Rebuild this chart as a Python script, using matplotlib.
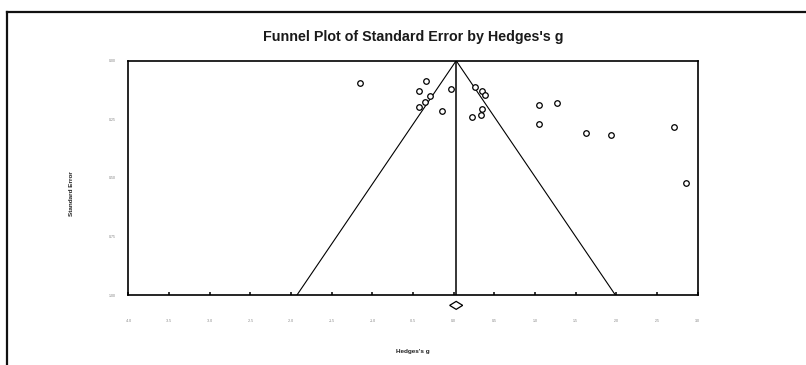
import matplotlib
matplotlib.use("Agg")
import matplotlib.pyplot as plt
from matplotlib.lines import Line2D
from matplotlib.patches import Polygon

# study effects (Hedges's g) and their standard errors
hedges_g = [-1.158, -0.336, -0.427, -0.296, -0.357, -0.427, -0.139, -0.028,
            0.267, 0.353, 0.390, 0.353, 0.341, 0.230,
            1.050, 1.266, 1.050, 1.627, 1.930, 2.713, 2.853]
std_err = [0.097, 0.087, 0.129, 0.152, 0.176, 0.198, 0.216, 0.119,
           0.112, 0.129, 0.147, 0.205, 0.233, 0.241,
           0.190, 0.180, 0.269, 0.308, 0.315, 0.281, 0.523]

# summary effect and its interval (diamond under the axis)
mean_g = 0.03
ci_low = -0.05
ci_high = 0.11
se_max = 1.0

x_ticks = [-4.0, -3.5, -3.0, -2.5, -2.0, -1.5, -1.0, -0.5, 0.0,
           0.5, 1.0, 1.5, 2.0, 2.5, 3.0]
y_ticks = [0.0, 0.25, 0.5, 0.75, 1.0]

plt.rcParams['font.family'] = ['Liberation Sans', 'DejaVu Sans']

fig = plt.figure(figsize=(8.06, 3.65), dpi=100)
ax = fig.add_axes([0.1594, 0.191, 0.7062, 0.6427])

# funnel and mean line
ax.plot([mean_g - 1.96 * se_max, mean_g, mean_g + 1.96 * se_max],
        [se_max, 0.0, se_max], color='black', lw=0.8)
ax.plot([mean_g, mean_g], [0.0, se_max], color='black', lw=1.1)

ax.plot(hedges_g, std_err, linestyle='none', marker='o', markersize=4.0,
        markerfacecolor='white', markeredgecolor='black', markeredgewidth=0.9)

# summary diamond, drawn just below the plot area
yd = 1.043
hd = 0.017
diamond = Polygon([(ci_low, yd), (mean_g, yd - hd), (ci_high, yd), (mean_g, yd + hd)],
                  closed=True, facecolor='white', edgecolor='black', lw=0.9,
                  clip_on=False, zorder=5)
ax.add_patch(diamond)

ax.set_xlim(-4.0, 3.0)
ax.set_ylim(1.0, 0.0)
ax.set_xticks(x_ticks)
ax.set_xticklabels([f"{t:.1f}" for t in x_ticks])
ax.set_yticks(y_ticks)
ax.set_yticklabels([f"{t:.2f}" for t in y_ticks])

for s in ax.spines.values():
    s.set_linewidth(1.2)

ax.tick_params(axis='x', direction='in', length=2.5, width=1.1, pad=17,
               labelsize=2.5, labelcolor='#7f7f7f')
ax.tick_params(axis='y', length=0, pad=9, labelsize=2.5, labelcolor='#7f7f7f')

fig.text(0.5124, 1 - 37.5 / 365, "Funnel Plot of Standard Error by Hedges's g",
         fontsize=10.3, fontweight='bold', color='#1a1a1a', ha='center', va='center')
fig.text(0.0893, 0.471, "Standard Error", rotation=90, fontsize=4.6,
         fontweight='bold', color='#222222', ha='center', va='center')
fig.text(0.5124, 0.036, "Hedges's g", fontsize=4.6, fontweight='bold',
         color='#222222', ha='center', va='center')

# outer frame (top and left edges only)
fig.add_artist(Line2D([7 / 806, 1.0], [1 - 12 / 365, 1 - 12 / 365],
                      transform=fig.transFigure, color='#111111', lw=1.6))
fig.add_artist(Line2D([7 / 806, 7 / 806], [0.0, 1 - 12 / 365],
                      transform=fig.transFigure, color='#111111', lw=1.6))

fig.savefig("out.png", dpi=100)
